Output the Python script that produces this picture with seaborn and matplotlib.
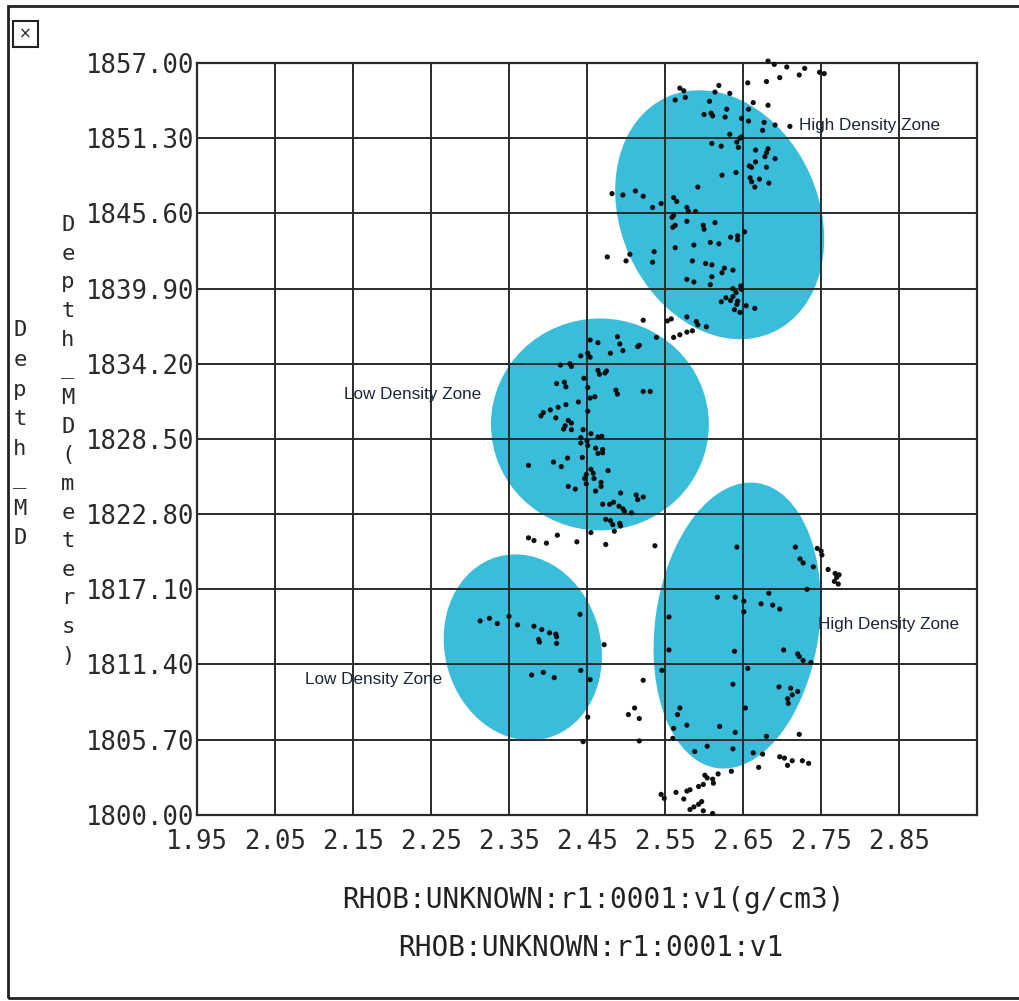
import matplotlib
matplotlib.use("Agg")
import matplotlib.pyplot as plt
from matplotlib import font_manager as fm
from matplotlib.patches import Ellipse, Rectangle
from matplotlib.transforms import ScaledTranslation
import pandas as pd
import seaborn as sns

# RHOB (g/cm3) vs measured depth (m), grouped by depth band
band_upper = [
    (2.682, 1857.15), (2.690, 1856.9), (2.706, 1856.7), (2.729, 1856.6), (2.722, 1856.1),
    (2.748, 1856.3), (2.754, 1856.2), (2.697, 1855.9), (2.680, 1855.6), (2.656, 1855.5),
    (2.619, 1855.3), (2.569, 1855.1), (2.574, 1854.9), (2.614, 1854.8), (2.633, 1854.7),
    (2.576, 1854.4), (2.563, 1854.2), (2.607, 1854.1), (2.663, 1854.0), (2.682, 1853.8),
    (2.629, 1853.5), (2.657, 1853.5), (2.600, 1853.1), (2.609, 1853.2), (2.611, 1853.0),
    (2.627, 1852.9), (2.648, 1852.8), (2.657, 1852.6), (2.677, 1852.5), (2.691, 1852.3),
    (2.710, 1852.2), (2.675, 1851.9), (2.633, 1851.6), (2.646, 1851.3), (2.648, 1851.4),
    (2.642, 1851.0), (2.610, 1850.9), (2.622, 1850.7), (2.644, 1850.6), (2.666, 1850.4),
    (2.682, 1850.5), (2.680, 1850.2), (2.678, 1849.9), (2.691, 1849.75), (2.666, 1849.5),
    (2.658, 1849.2), (2.661, 1849.1), (2.680, 1849.1), (2.623, 1848.5), (2.641, 1848.7),
    (2.659, 1848.3), (2.661, 1848.0), (2.671, 1848.2), (2.665, 1847.6), (2.683, 1847.9),
    (2.592, 1847.6), (2.482, 1847.1), (2.496, 1847.0), (2.512, 1847.3), (2.522, 1846.9),
    (2.561, 1846.8), (2.565, 1846.5), (2.534, 1846.05), (2.545, 1846.35), (2.578, 1846.05),
    (2.580, 1845.75), (2.589, 1845.75), (2.559, 1845.3), (2.561, 1845.45), (2.578, 1845.0),
    (2.560, 1844.55), (2.563, 1844.7), (2.599, 1844.7), (2.600, 1844.4), (2.614, 1844.9),
    (2.652, 1844.2), (2.634, 1843.8), (2.643, 1843.9), (2.643, 1843.6), (2.587, 1843.2),
    (2.563, 1843.0), (2.608, 1843.4), (2.619, 1843.3), (2.536, 1842.7), (2.534, 1841.9),
    (2.476, 1842.3), (2.500, 1842.0), (2.505, 1842.5), (2.585, 1842.0), (2.602, 1841.8),
    (2.610, 1841.7), (2.626, 1841.45), (2.623, 1841.1), (2.637, 1841.3), (2.578, 1840.6),
    (2.587, 1840.4), (2.610, 1840.8), (2.608, 1840.2), (2.637, 1839.9), (2.647, 1840.1),
    (2.648, 1839.85), (2.641, 1839.6), (2.637, 1839.3), (2.628, 1839.2), (2.622, 1838.9),
    (2.634, 1839.0), (2.643, 1838.95), (2.642, 1838.7), (2.654, 1838.6), (2.665, 1838.4),
    (2.639, 1838.3), (2.646, 1838.1), (2.522, 1837.5), (2.553, 1837.45), (2.558, 1837.6),
    (2.578, 1837.75), (2.590, 1837.4), (2.592, 1837.15), (2.603, 1837.0), (2.561, 1836.2),
    (2.569, 1836.4), (2.578, 1836.6), (2.585, 1836.7), (2.539, 1836.2),
]

band_middle = [
    (2.454, 1836.0), (2.464, 1835.8), (2.489, 1836.25), (2.492, 1835.7), (2.496, 1835.2),
    (2.480, 1835.0), (2.515, 1835.5), (2.517, 1835.6), (2.442, 1834.8), (2.451, 1835.0),
    (2.454, 1834.7), (2.416, 1834.1), (2.428, 1834.2), (2.430, 1834.0), (2.464, 1833.7),
    (2.466, 1833.4), (2.473, 1833.5), (2.475, 1833.65), (2.446, 1833.1), (2.411, 1832.7),
    (2.421, 1832.8), (2.423, 1832.45), (2.451, 1832.4), (2.487, 1832.2), (2.489, 1831.9),
    (2.522, 1832.1), (2.531, 1832.1), (2.454, 1831.6), (2.460, 1831.7), (2.439, 1831.3),
    (2.423, 1831.1), (2.413, 1830.9), (2.403, 1830.7), (2.394, 1830.5), (2.391, 1830.25),
    (2.451, 1830.6), (2.410, 1830.1), (2.426, 1829.9), (2.430, 1829.7), (2.422, 1829.5),
    (2.445, 1829.2), (2.430, 1829.2), (2.420, 1829.25), (2.455, 1828.9), (2.464, 1828.65),
    (2.469, 1828.7), (2.442, 1828.6), (2.442, 1828.2), (2.450, 1828.35), (2.451, 1828.0),
    (2.461, 1827.8), (2.464, 1827.4), (2.470, 1827.7), (2.470, 1827.45), (2.375, 1826.5),
    (2.407, 1826.75), (2.417, 1826.4), (2.425, 1827.05), (2.444, 1827.1), (2.455, 1826.2),
    (2.458, 1825.9), (2.449, 1825.8), (2.447, 1825.5), (2.477, 1826.1), (2.459, 1825.5),
    (2.468, 1825.2), (2.468, 1824.9), (2.449, 1825.1), (2.426, 1824.9), (2.435, 1824.7),
    (2.461, 1824.55), (2.493, 1824.4), (2.513, 1824.25), (2.515, 1823.9), (2.522, 1824.1),
    (2.470, 1823.55), (2.479, 1823.55), (2.484, 1823.7), (2.491, 1823.4), (2.496, 1823.2),
    (2.498, 1823.0), (2.507, 1822.9), (2.474, 1822.4), (2.480, 1822.3), (2.483, 1822.0),
    (2.492, 1822.1), (2.493, 1821.9), (2.485, 1821.5), (2.375, 1821.0), (2.382, 1820.8),
    (2.398, 1820.6), (2.412, 1821.2), (2.437, 1820.7), (2.474, 1820.5), (2.537, 1820.4),
    (2.455, 1821.4),
]

band_lower_left = [
    (2.313, 1814.7), (2.325, 1814.9), (2.335, 1814.5), (2.350, 1815.05), (2.361, 1814.4),
    (2.382, 1814.3), (2.392, 1814.05), (2.402, 1813.8), (2.410, 1813.7), (2.411, 1813.5),
    (2.388, 1813.3), (2.389, 1813.1), (2.411, 1813.0), (2.441, 1815.2), (2.472, 1812.9),
    (2.379, 1810.6), (2.394, 1810.8), (2.408, 1810.4), (2.442, 1810.95), (2.454, 1810.25),
    (2.522, 1810.2), (2.511, 1808.1), (2.503, 1807.6), (2.517, 1807.3), (2.451, 1807.4),
    (2.445, 1805.55), (2.517, 1805.6),
]

band_lower_right = [
    (2.642, 1820.3), (2.717, 1820.3), (2.723, 1819.4), (2.727, 1819.1), (2.750, 1820.0),
    (2.751, 1819.7), (2.745, 1820.2), (2.740, 1818.8), (2.759, 1818.6), (2.768, 1818.3),
    (2.770, 1818.0), (2.773, 1818.2), (2.767, 1817.7), (2.772, 1817.5), (2.732, 1817.1),
    (2.683, 1816.8), (2.617, 1816.5), (2.640, 1816.5), (2.651, 1816.2), (2.651, 1815.4),
    (2.673, 1816.0), (2.688, 1815.9), (2.697, 1815.6), (2.555, 1815.0), (2.555, 1812.5),
    (2.639, 1812.4), (2.702, 1812.5), (2.720, 1812.2), (2.722, 1812.0), (2.727, 1811.7),
    (2.737, 1811.55), (2.546, 1810.95), (2.656, 1811.1), (2.637, 1809.9), (2.696, 1809.7),
    (2.711, 1809.6), (2.720, 1809.35), (2.713, 1809.1), (2.707, 1808.8), (2.708, 1808.45),
    (2.569, 1808.1), (2.566, 1807.6), (2.653, 1808.1), (2.578, 1806.8), (2.561, 1806.55),
    (2.620, 1806.7), (2.640, 1806.25), (2.680, 1805.95), (2.722, 1806.1), (2.560, 1805.8),
    (2.588, 1804.8), (2.604, 1805.2), (2.637, 1805.0), (2.663, 1804.7), (2.675, 1804.6),
    (2.697, 1804.4), (2.703, 1804.3), (2.713, 1804.1), (2.707, 1803.75), (2.726, 1804.1),
    (2.734, 1803.9), (2.670, 1803.6), (2.635, 1803.3), (2.618, 1803.1), (2.601, 1803.0),
    (2.604, 1802.8), (2.611, 1802.7), (2.612, 1802.4), (2.599, 1802.3), (2.593, 1802.15),
    (2.582, 1801.9), (2.578, 1801.8), (2.564, 1801.7), (2.545, 1801.55), (2.549, 1801.25),
    (2.574, 1801.2), (2.597, 1801.0), (2.593, 1800.8), (2.587, 1800.6), (2.582, 1800.4),
    (2.599, 1800.3), (2.611, 1800.1),
]

rhob_ticks = [1.95, 2.05, 2.15, 2.25, 2.35, 2.45, 2.55, 2.65, 2.75, 2.85, 2.95]
depth_ticks = [1800.0, 1805.7, 1811.4, 1817.1, 1822.8, 1828.5, 1834.2, 1839.9,
               1845.6, 1851.3, 1857.0]

# interpreted zones: name, centre (rhob, depth)
zone_names = ["High Density Zone", "Low Density Zone", "Low Density Zone", "High Density Zone"]
zone_rhob = [2.620, 2.4665, 2.3677, 2.6424]
zone_depth = [1845.5, 1829.6, 1812.7, 1814.35]
zone_label_rhob = [2.722, 2.139, 2.088, 2.746]
zone_label_depth = [1852.25, 1831.9, 1810.25, 1814.45]
# ellipse outline (width, height in inches; tilt in degrees)
zone_shape = [(2.00, 2.60, 24), (2.20, 2.14, 0), (1.58, 1.90, 15), (1.66, 2.90, -8)]

points = band_upper + band_middle + band_lower_left + band_lower_right
df = pd.DataFrame(points, columns=["rhob", "depth"])

sns.set_theme(style="white")
plt.rcParams["font.family"] = ["DejaVu Sans Mono", "DejaVu Sans"]
installed = {f.name for f in fm.fontManager.ttflist}
narrow = "Liberation Sans Narrow" if "Liberation Sans Narrow" in installed else "Liberation Sans"
zone_fs = 13.5 if narrow == "Liberation Sans Narrow" else 12.3

fig = plt.figure(figsize=(10.2, 10.01), dpi=100)
fig.patch.set_facecolor("white")
ax = fig.add_axes([0.193, 0.186, 0.765, 0.751])
ax.set_facecolor("white")
ax.set_xlim(1.95, 2.95)
ax.set_ylim(1800, 1857)

cyan = "#3abcdb"
for (w, h, ang), cx, cy in zip(zone_shape, zone_rhob, zone_depth):
    tr = fig.dpi_scale_trans + ScaledTranslation(cx, cy, ax.transData)
    ax.add_patch(Ellipse((0, 0), w, h, angle=ang, transform=tr,
                         facecolor=cyan, edgecolor="white", lw=1.5, zorder=1))

sns.scatterplot(data=df, x="rhob", y="depth", ax=ax, s=14, color="#101010",
                edgecolor="none", linewidth=0, zorder=3, clip_on=False, legend=False)

for name, lx, ly in zip(zone_names, zone_label_rhob, zone_label_depth):
    ax.text(lx, ly, name, family=narrow, fontsize=zone_fs, color="#1a2638",
            ha="left", va="center", zorder=5)

ax.set_xticks(rhob_ticks)
ax.set_xticklabels([f"{v:.2f}" for v in rhob_ticks[:-1]] + [""])
ax.set_yticks(depth_ticks)
ax.set_yticklabels([f"{v:.2f}" for v in depth_ticks])
ax.tick_params(axis="both", length=0, labelsize=18.5, colors="#2a2a2a")
ax.tick_params(axis="x", pad=10)
ax.tick_params(axis="y", pad=2)
ax.set_xlabel("")
ax.set_ylabel("")
ax.grid(True, color="#2a2a2a", lw=1.4)
ax.set_axisbelow(False)
for sp in ax.spines.values():
    sp.set_color("#2a2a2a")
    sp.set_linewidth(1.6)

# stacked vertical axis titles
fig.text(0.0667, 0.785, "\n".join("Depth_MD(meters)"), ha="center", va="top",
         fontsize=16, linespacing=1.54, color="#2a2a2a")
fig.text(0.0196, 0.68, "\n".join("Depth_MD"), ha="center", va="top",
         fontsize=16, linespacing=1.6, color="#2a2a2a")

fig.text(0.582, 0.101, "RHOB:UNKNOWN:r1:0001:v1(g/cm3)", ha="center", va="center",
         fontsize=20, color="#222222")
fig.text(0.579, 0.053, "RHOB:UNKNOWN:r1:0001:v1", ha="center", va="center",
         fontsize=20, color="#222222")

# window frame and close box
fig.add_artist(Rectangle((0.008, 0.003), 1.2, 0.991, transform=fig.transFigure,
                         fill=False, lw=2, edgecolor="#222222", clip_on=False))
fig.add_artist(Rectangle((0.0127, 0.953), 0.0245, 0.026, transform=fig.transFigure,
                         fill=False, lw=1.5, edgecolor="#222222"))
fig.text(0.025, 0.966, "×", ha="center", va="center", fontsize=11,
         family="DejaVu Sans", color="#222222")

fig.savefig("out.png", dpi=100, facecolor="white")
